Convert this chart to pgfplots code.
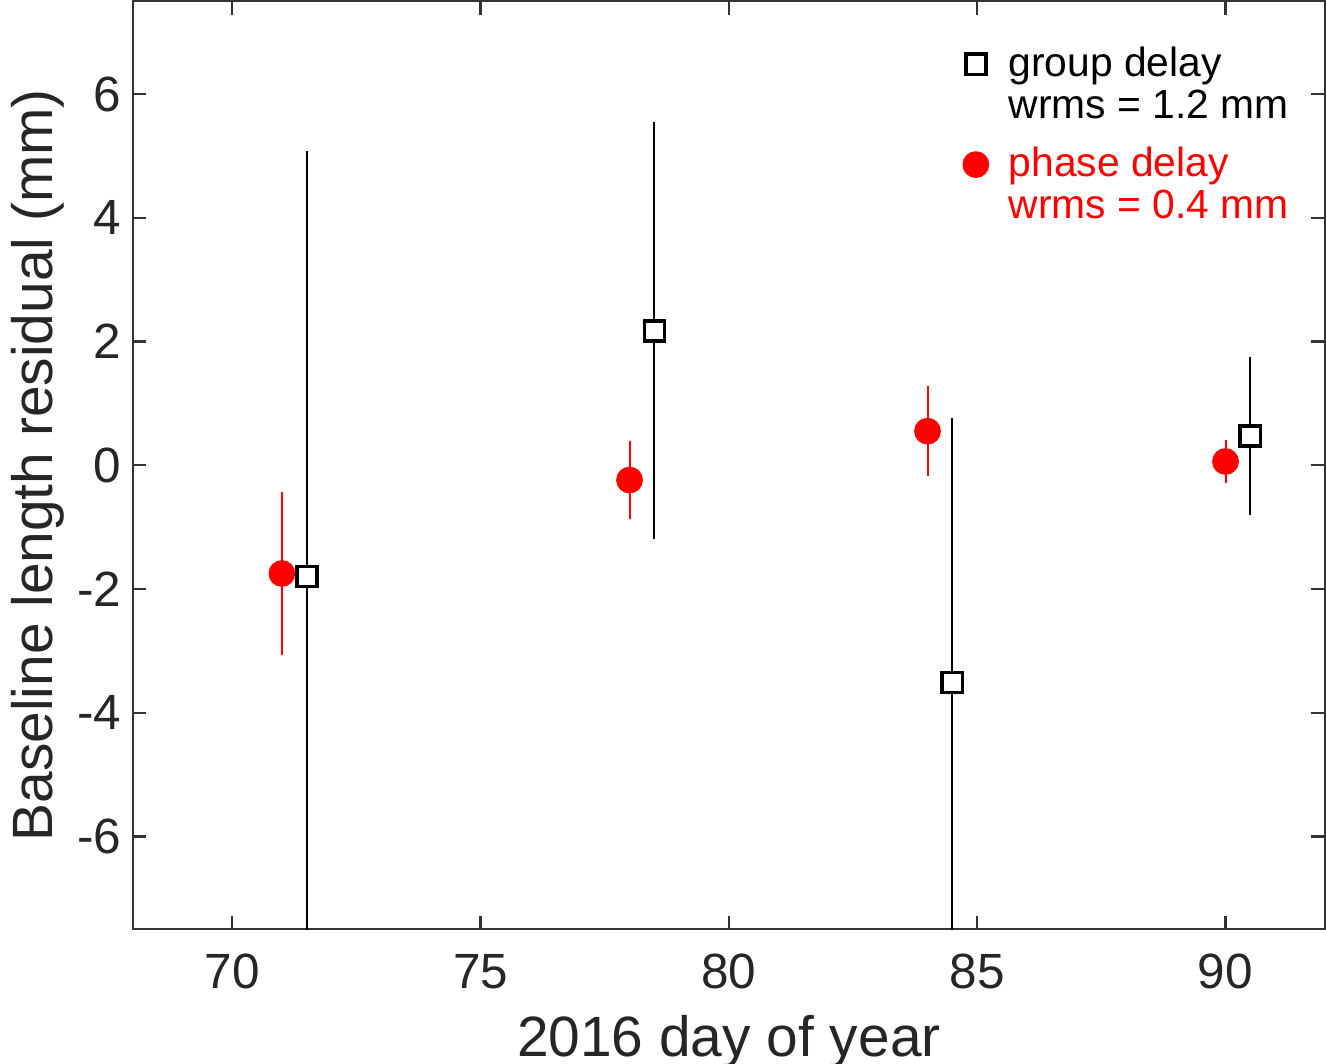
\documentclass[border=0pt]{standalone}
\usepackage{pgfplots}
\pgfplotsset{compat=1.18}
\usepackage{fontspec}
\setmainfont{Liberation Sans}
\definecolor{axgray}{RGB}{51,51,51}
\begin{document}
\begin{tikzpicture}
\begin{axis}[
  scale only axis, width=356.4pt, height=277.5pt,
  xmin=68, xmax=92, ymin=-7.5, ymax=7.5,
  xtick={70,75,80,85,90}, ytick={-6,-4,-2,0,2,4,6},
  tick align=inside, major tick length=4pt,
  axis line style={draw=axgray, line width=0.7pt},
  every tick/.style={axgray, line width=0.7pt},
  /pgf/number format/assume math mode=true,
  ticklabel style={font=\fontsize{14.8}{17}\selectfont, text=black!85},
  xticklabel style={yshift=-4pt},
  xlabel={2016 day of year}, ylabel={Baseline length residual (mm)},
  label style={font=\fontsize{17}{19}\selectfont, text=black!85},
  xlabel style={at={(axis description cs:0.5,0)}, anchor=base, inner sep=0pt,
    text depth=2.1pt, yshift=-38.1pt},
  ylabel style={yshift=-3pt},
  legend cell align=left,
  legend style={at={(rel axis cs:0.696,0.9557)}, anchor=north west, draw=none, fill=none,
    inner sep=0pt,
    cells={anchor=base west},
    nodes={font=\fontsize{12.2}{12.7}\selectfont, inner sep=1pt},
    row sep=17.6pt, column sep=5pt},
  every legend image post/.append style={yshift=3.5pt},
]
\addplot[only marks, mark=square*, mark size=3pt, black, line width=1.1pt,
  mark options={fill=white},
  error bars/.cd, y dir=both, y explicit,
  error bar style={line width=0.6pt, black}, error mark=none]
  coordinates {
  (71.5,-1.80) +- (0,6.88)
  (78.5,2.17) +- (0,3.37)
  (84.5,-3.51) +- (0,4.27)
  (90.5,0.47) +- (0,1.28)
  };
\addlegendentry{\begin{tabular}[t]{@{}l@{}}group delay\\wrms = 1.2 mm\end{tabular}}
\addplot[only marks, mark=*, mark size=3.8pt, red, draw=red, fill=red,
  error bars/.cd, y dir=both, y explicit,
  error bar style={line width=0.6pt, red}, error mark=none]
  coordinates {
  (71.0,-1.75) +- (0,1.31)
  (78.0,-0.24) +- (0,0.63)
  (84.0,0.55) +- (0,0.73)
  (90.0,0.06) +- (0,0.35)
  };
\addlegendentry[text=red]{\begin{tabular}[t]{@{}l@{}}phase delay\\wrms = 0.4 mm\end{tabular}}
\end{axis}
\end{tikzpicture}
\end{document}
